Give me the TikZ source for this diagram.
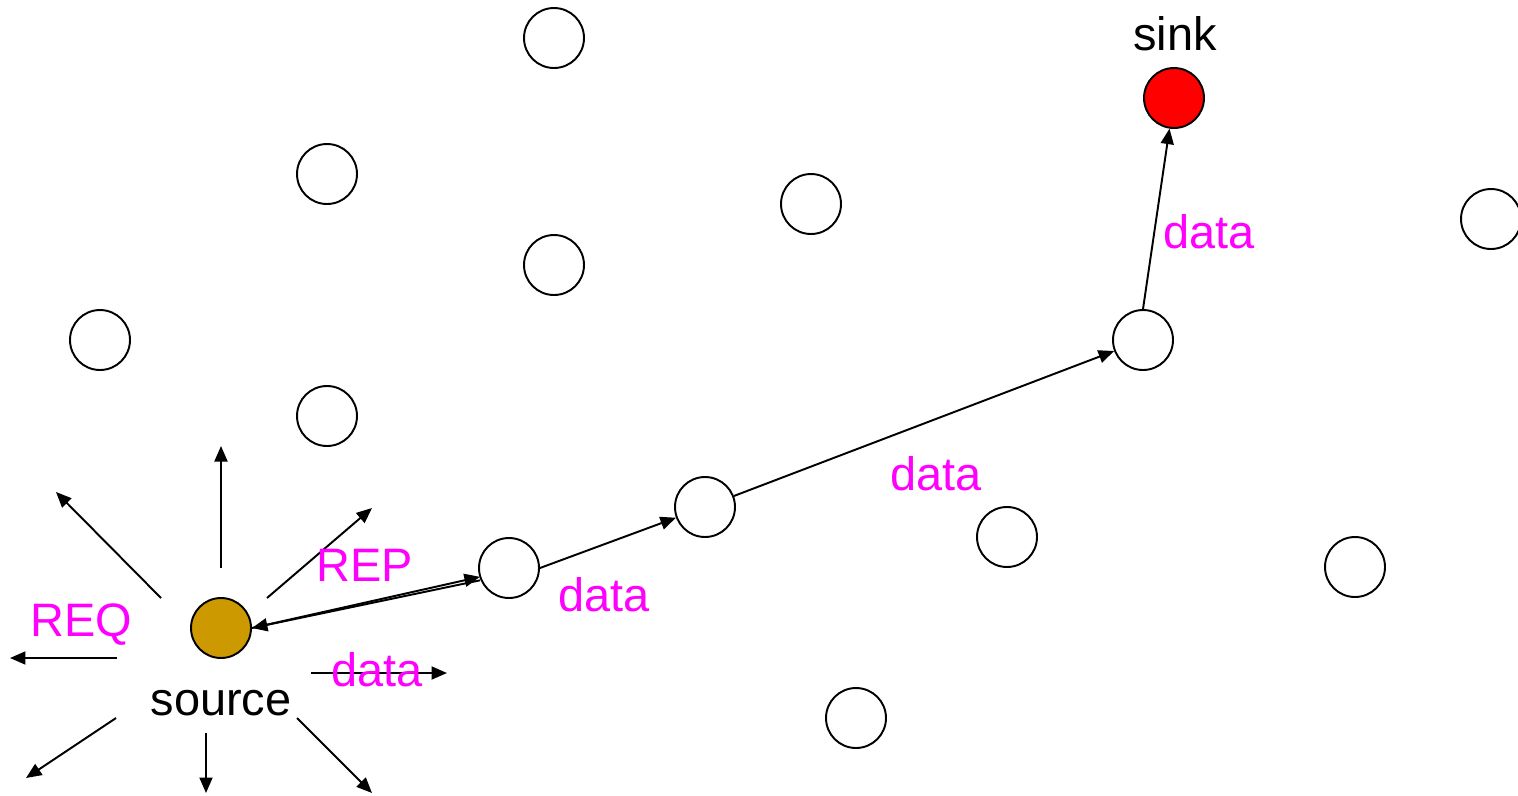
\documentclass[tikz,border=0pt]{standalone}
\usepackage{fontspec}
\setmainfont{Liberation Sans}
\usepackage{tikz}
\usetikzlibrary{arrows.meta}
\definecolor{gold}{HTML}{CC9900}
\definecolor{pink}{HTML}{FF00FF}

\begin{document}
\begin{tikzpicture}[x=0.02cm,y=-0.02cm,
  every node/.style={font=\fontsize{26.7}{32}\selectfont},
  mote/.style={circle,draw=black,line width=1.1pt,fill=white,minimum size=1.2cm,inner sep=0pt},
  lbl/.style={text=pink,inner sep=0pt},
  arr/.style={-{Triangle[length=3.1mm,width=2.6mm]},line width=1.1pt}]
\useasboundingbox (0,0) rectangle (1518,795);
% field nodes
\node[mote] (a) at (554,38) {};
\node[mote] (b) at (327,174) {};
\node[mote] (c) at (811,204) {};
\node[mote] (d) at (554,265) {};
\node[mote] (e) at (100,340) {};
\node[mote] (f) at (327,416) {};
\node[mote] (g) at (1491,219) {};
\node[mote] (h) at (1007,537) {};
\node[mote] (i) at (1355,567) {};
\node[mote] (j) at (856,718) {};
% route nodes
\node[mote] (n1) at (509,568) {};
\node[mote] (n2) at (705,507) {};
\node[mote] (n3) at (1143,340) {};
\node[mote,fill=red] (sink) at (1174,98) {};
\node[mote,fill=gold] (src) at (221,628) {};
\node[inner sep=0pt] (sinklbl) at (1175,34) {sink};
\node[inner sep=0pt] (srclbl) at (221,703) {source};
% flood from source
\coordinate (u0) at (221,568); \coordinate (u1) at (221,446);
\coordinate (ul0) at (161,598); \coordinate (ul1) at (56,492);
\coordinate (ur0) at (267,598); \coordinate (ur1) at (372,508);
\coordinate (l0) at (117,658); \coordinate (l1) at (10,658);
\coordinate (r0) at (311,673); \coordinate (r1) at (447,673);
\coordinate (dl0) at (116,718); \coordinate (dl1) at (26,778);
\coordinate (dn0) at (206,733); \coordinate (dn1) at (206,793);
\coordinate (dr0) at (297,718); \coordinate (dr1) at (372,793);
\draw[arr] (u0) -- (u1);
\draw[arr] (ul0) -- (ul1);
\draw[arr] (ur0) -- (ur1);
\draw[arr] (l0) -- (l1);
\draw[arr] (r0) -- (r1);
\draw[arr] (dl0) -- (dl1);
\draw[arr] (dn0) -- (dn1);
\draw[arr] (dr0) -- (dr1);
% reply and data path
\draw[arr] (src.east) -- ([yshift=1pt]n1.200);
\draw[arr] ([yshift=-1pt]n1.200) -- (src.east);
\draw[arr] (n1.east) -- (n2);
\draw[arr] (n2) -- (n3);
\draw[arr] (n3.north) -- (sink);
% labels
\node[lbl] (reqlbl) at (81,625) {REQ};
\node[lbl] (replbl) at (365,565) {REP};
\node[lbl] (dat0) at (377,670) {data};
\node[lbl] (dat1) at (604,595) {data};
\node[lbl] (dat2) at (936,474) {data};
\node[lbl] (dat3) at (1209,232) {data};
\end{tikzpicture}
\end{document}
